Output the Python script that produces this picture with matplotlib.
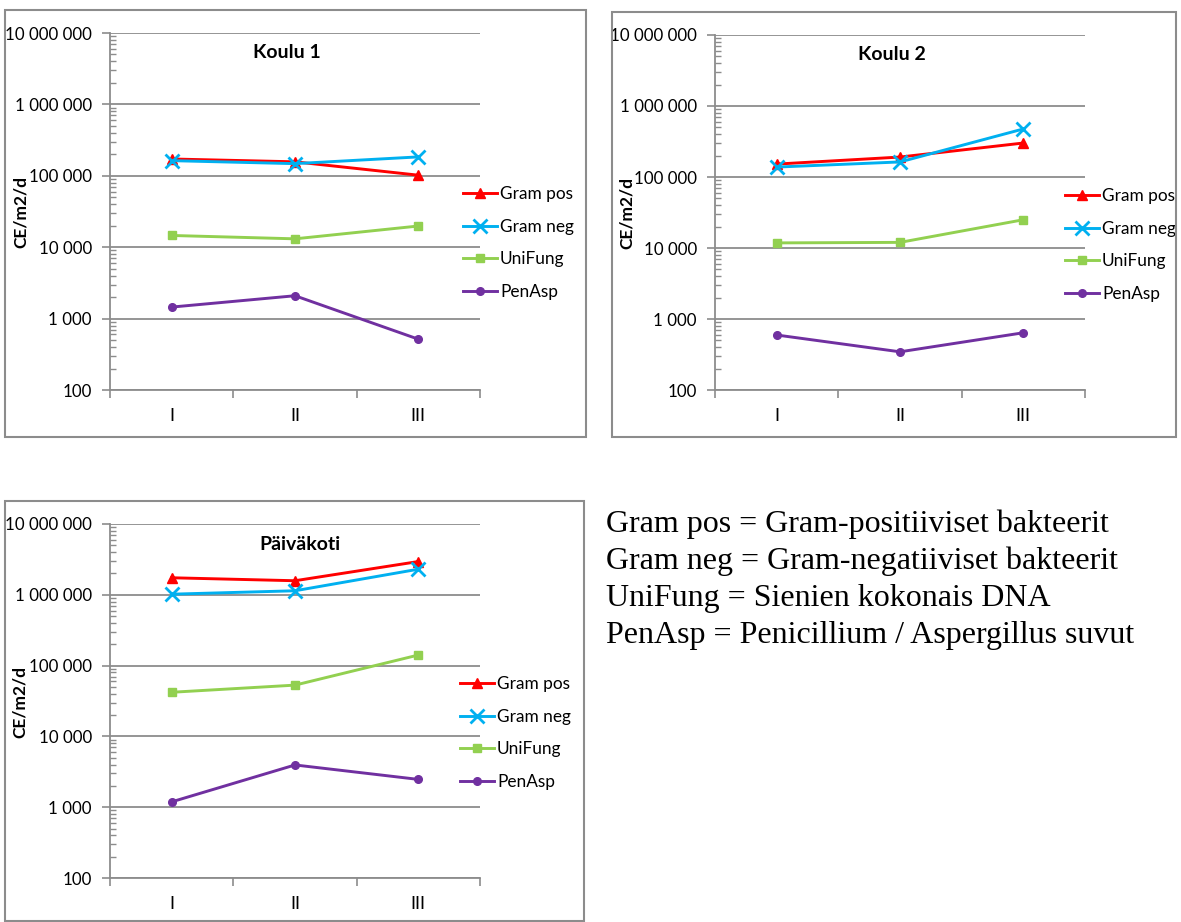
import matplotlib
matplotlib.use("Agg")
import matplotlib.pyplot as plt
from matplotlib.patches import Rectangle
from matplotlib.ticker import FixedLocator, FuncFormatter, LogLocator, NullFormatter

W, H = 1181, 922

categories = ["I", "II", "III"]
series_names = ["Gram pos", "Gram neg", "UniFung", "PenAsp"]

# Koulu 1
k1_gram_pos = [172000, 157000, 102000]
k1_gram_neg = [163000, 148000, 184000]
k1_unifung = [14600, 13100, 19800]
k1_penasp = [1450, 2090, 515]

# Koulu 2
k2_gram_pos = [152000, 191000, 301000]
k2_gram_neg = [138000, 163000, 475000]
k2_unifung = [11800, 12000, 25000]
k2_penasp = [595, 345, 640]

# Päiväkoti
pk_gram_pos = [1740000, 1580000, 2950000]
pk_gram_neg = [1020000, 1140000, 2300000]
pk_unifung = [42000, 53000, 141000]
pk_penasp = [1190, 3950, 2470]

footnote = [
    "Gram pos = Gram-positiiviset bakteerit",
    "Gram neg = Gram-negatiiviset bakteerit",
    "UniFung = Sienien kokonais DNA",
    "PenAsp = Penicillium / Aspergillus suvut",
]

colors = ["#ff0000", "#00b0f0", "#92d050", "#7030a0"]
markers = ["^", "x", "s", "o"]
msizes = [7.5, 10, 5.5, 5.5]
grey = "#8c8c8c"
sans = ["Lato", "DejaVu Sans"]

fig = plt.figure(figsize=(W / 100, H / 100), dpi=100)


def fx(x):
    return x / W


def fy(y):
    return 1 - y / H


def thousands(v, pos):
    return "{:,}".format(int(round(v))).replace(",", " ")


def panel(box, plot, title, title_xy, ylab_xy, legend_xy, data):
    # outer chart frame
    bx0, by0, bx1, by1 = box
    fig.patches.append(Rectangle((fx(bx0), fy(by1)), fx(bx1 - bx0), (by1 - by0) / H,
                                 transform=fig.transFigure, fill=False,
                                 edgecolor=grey, lw=1.5))
    x0, y0, x1, y1 = plot
    ax = fig.add_axes([fx(x0), fy(y1), fx(x1 - x0), (y1 - y0) / H])
    xs = [1, 2, 3]
    for vals, name, c, m, ms in zip(data, series_names, colors, markers, msizes):
        mew = 2 if m == "x" else 1
        ax.plot(xs, vals, color=c, lw=2.1, marker=m, ms=ms, mew=mew,
                mec=c, mfc=c, label=name, clip_on=False, zorder=3)
    ax.set_yscale("log")
    ax.set_ylim(100, 1e7)
    ax.set_xlim(0.5, 3.5)
    ax.yaxis.set_major_locator(FixedLocator([1e2, 1e3, 1e4, 1e5, 1e6, 1e7]))
    ax.yaxis.set_major_formatter(FuncFormatter(thousands))
    ax.yaxis.set_minor_locator(LogLocator(base=10, subs=range(2, 10)))
    ax.yaxis.set_minor_formatter(NullFormatter())
    ax.tick_params(axis="y", which="major", direction="out", length=6,
                   color=grey, width=1.2, labelsize=12.2, pad=7)
    ax.tick_params(axis="y", which="minor", direction="in", length=4,
                   color=grey, width=1)
    ax.xaxis.set_major_locator(FixedLocator([0.5, 1.5, 2.5, 3.5]))
    ax.xaxis.set_major_formatter(NullFormatter())
    ax.xaxis.set_minor_locator(FixedLocator(xs))
    ax.set_xticklabels(categories, minor=True)
    ax.tick_params(axis="x", which="major", direction="out", length=6,
                   color=grey, width=1.2)
    ax.tick_params(axis="x", which="minor", length=0, labelsize=13, pad=13)
    for lab in ax.get_yticklabels() + ax.get_xticklabels(minor=True):
        lab.set_family(sans)
    ax.yaxis.grid(True, which="major", color=grey, lw=1.3)
    ax.set_axisbelow(True)
    for s in ["top", "right"]:
        ax.spines[s].set_visible(False)
    for s in ["left", "bottom"]:
        ax.spines[s].set_color(grey)
        ax.spines[s].set_linewidth(1.3)
    fig.text(fx(title_xy[0]), fy(title_xy[1]), title, ha="center", va="center",
             fontsize=14, fontweight="bold", family=sans)
    fig.text(fx(ylab_xy[0]), fy(ylab_xy[1]), "CE/m2/d", rotation=90,
             ha="center", va="center", fontsize=12.5, fontweight="bold", family=sans)
    ax.legend(loc="center left", bbox_to_anchor=(fx(legend_xy[0]), fy(legend_xy[1])),
              bbox_transform=fig.transFigure, frameon=False, borderpad=0,
              borderaxespad=0, handlelength=2.0, handletextpad=0.15,
              labelspacing=0.95, prop={"family": sans, "size": 12.4})
    return ax


panel((5, 10, 586, 437), (110, 33, 480, 390), "Koulu 1", (287, 52), (21, 212), (463, 243),
      [k1_gram_pos, k1_gram_neg, k1_unifung, k1_penasp])
panel((612, 12, 1176, 437), (715, 35, 1085, 390), "Koulu 2", (892, 55), (627, 213),
      (1065, 245), [k2_gram_pos, k2_gram_neg, k2_unifung, k2_penasp])
panel((5, 501, 584, 921), (110, 524, 480, 878), "Päiväkoti", (300, 544), (20, 702),
      (460, 733), [pk_gram_pos, pk_gram_neg, pk_unifung, pk_penasp])

for i, line in enumerate(footnote):
    fig.text(fx(606), fy(524 + i * 37), line, ha="left", va="center",
             fontsize=23, family="Liberation Serif")

fig.savefig("out.png", dpi=100)
